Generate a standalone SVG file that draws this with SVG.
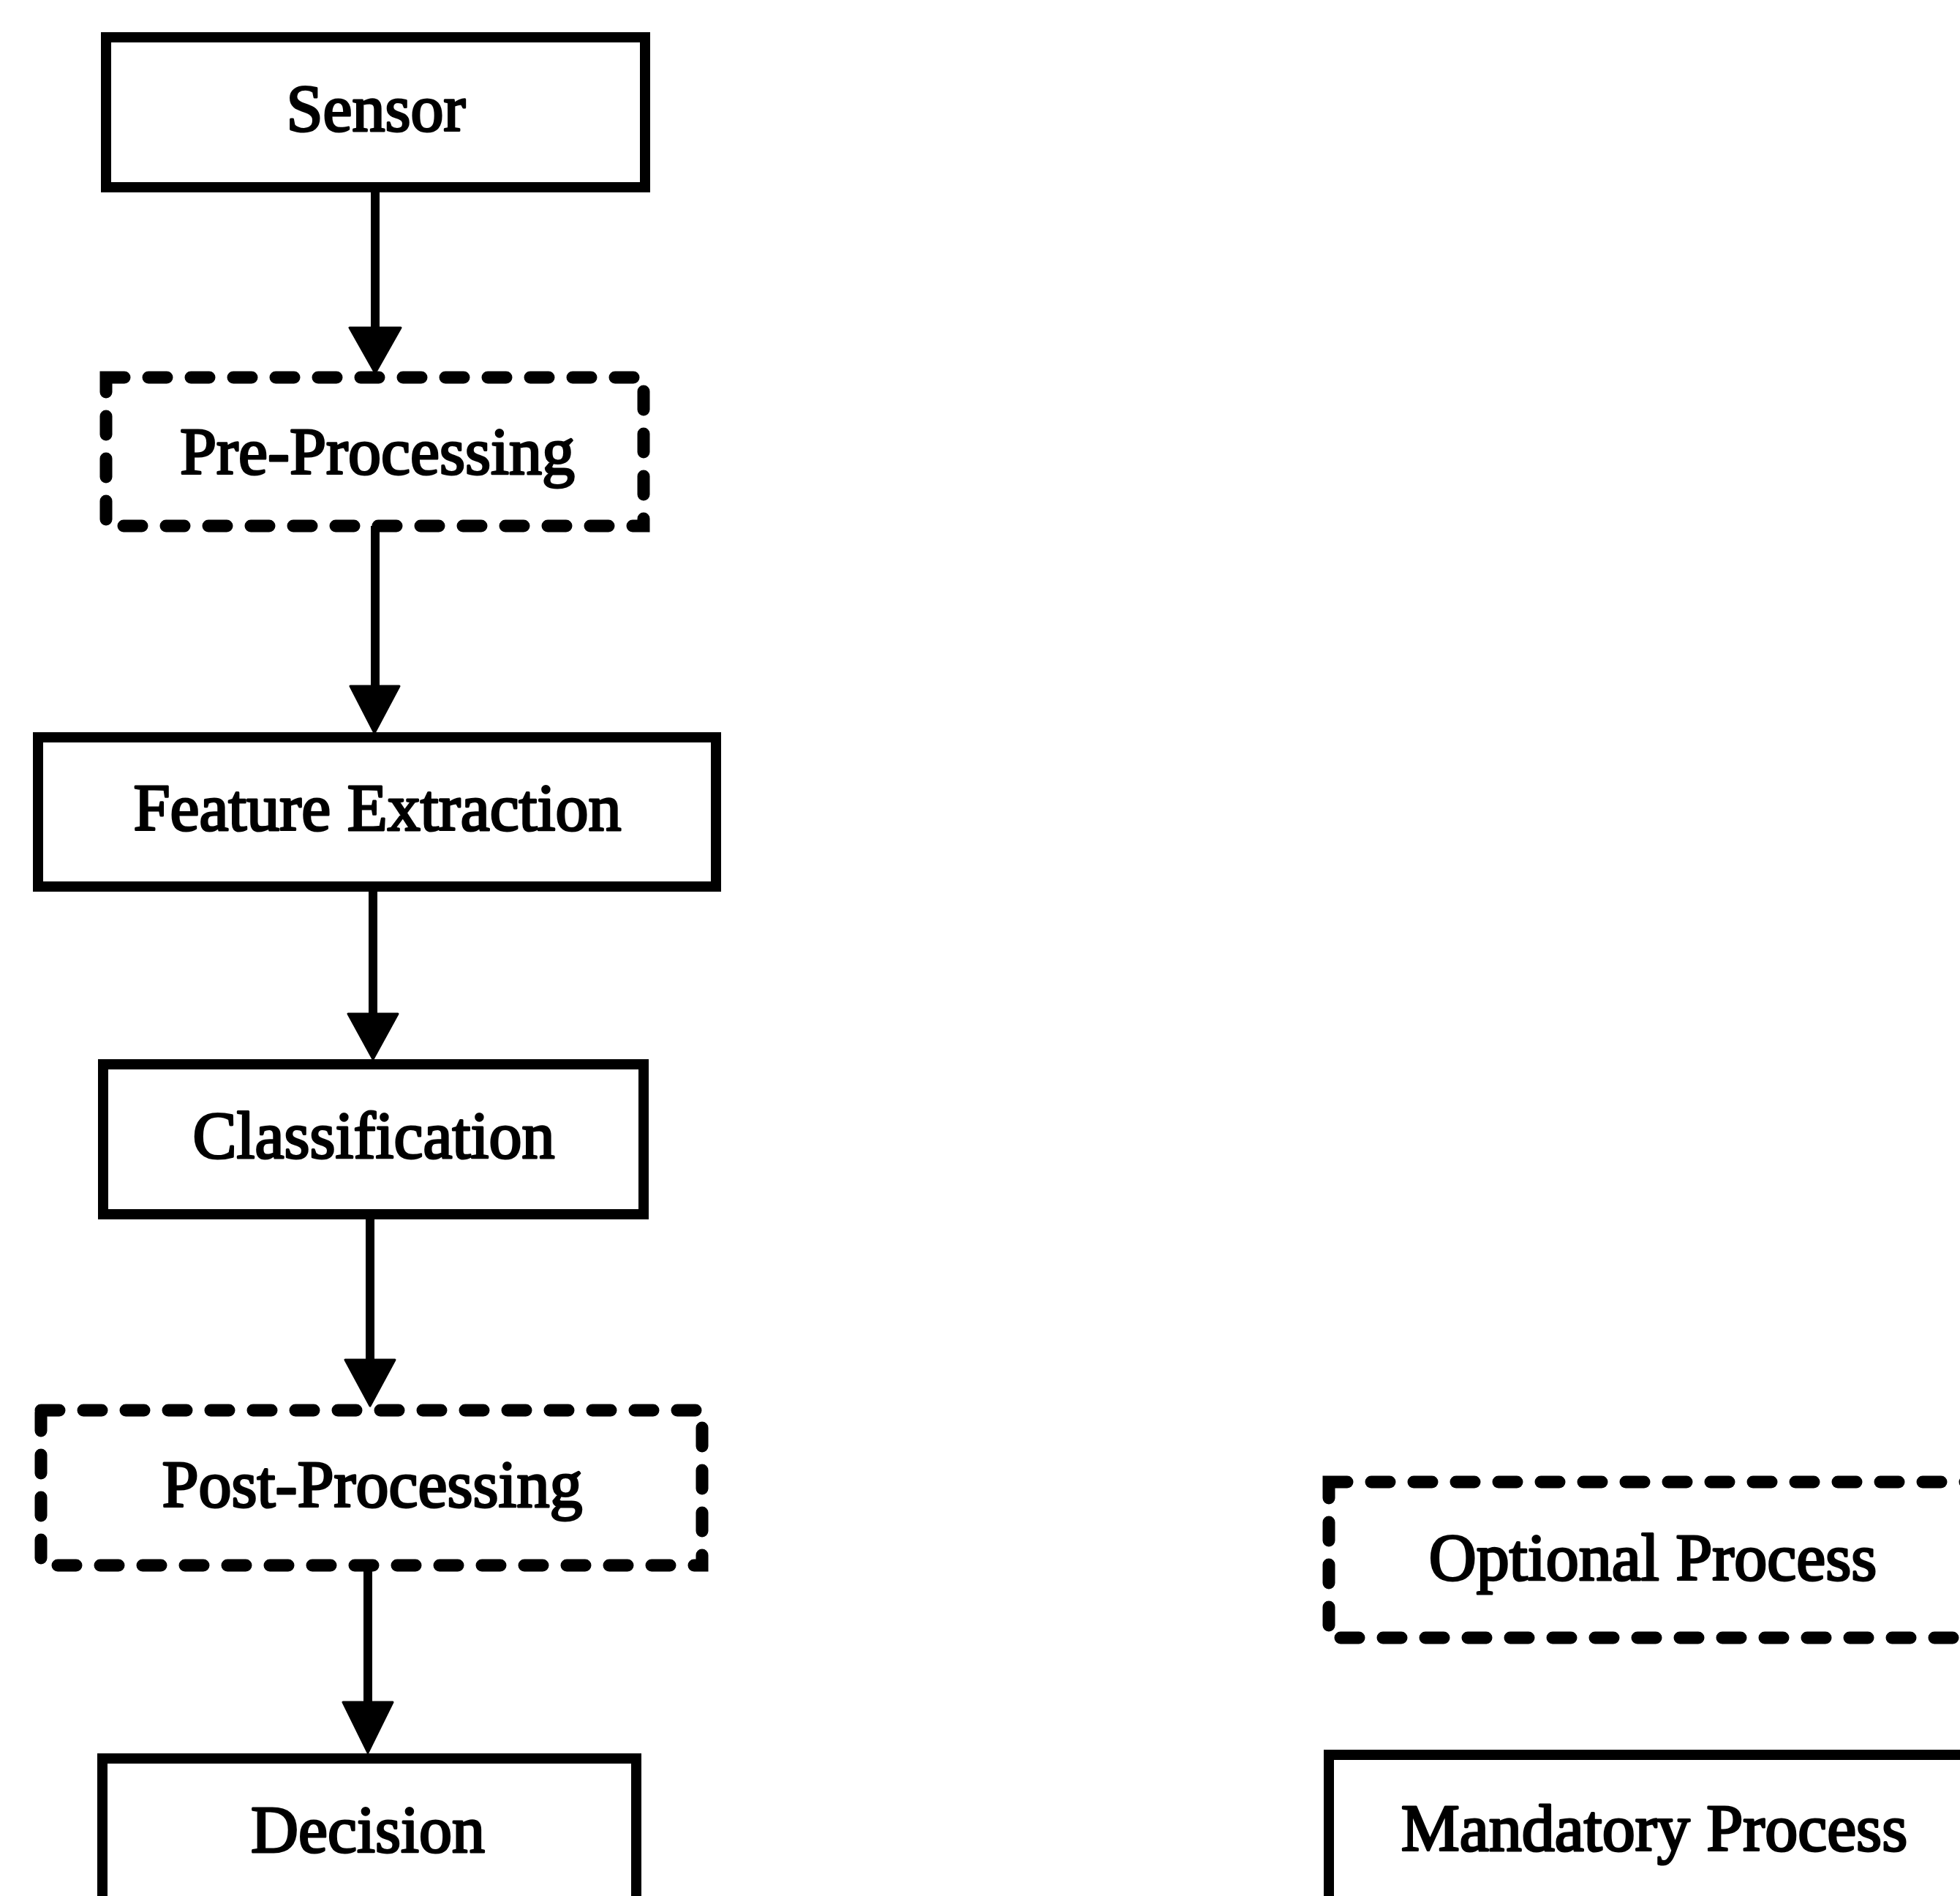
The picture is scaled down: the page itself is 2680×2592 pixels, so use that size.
<svg xmlns="http://www.w3.org/2000/svg" width="2680" height="2592" viewBox="0 0 2680 2592">
<style>
.box{fill:none;stroke:#000;stroke-width:14}
.opt{fill:none;stroke:#000;stroke-width:17;stroke-dasharray:25 33;stroke-linecap:round}
.lbl{font-family:"Liberation Serif","Times New Roman",serif;font-size:90px;text-anchor:middle;fill:#000;stroke:#000;stroke-width:3;stroke-linejoin:round}
.edge{stroke:#000;stroke-width:12;fill:none}
.head{fill:#000;stroke:#000;stroke-width:3;stroke-linejoin:round}
</style>
<rect x="0" y="0" width="2680" height="2592" fill="#fff"/>
<g id="connectors">
  <line class="edge" x1="513" y1="256" x2="513" y2="452"/>
  <polygon class="head" points="478,448 548,448 513,510"/>
  <line class="edge" x1="513" y1="719" x2="513" y2="940"/>
  <polygon class="head" points="479,938 546,938 512,1002"/>
  <line class="edge" x1="510" y1="1212" x2="510" y2="1388"/>
  <polygon class="head" points="476,1386 544,1386 510,1448"/>
  <line class="edge" x1="506" y1="1660" x2="506" y2="1862"/>
  <polygon class="head" points="472,1859 540,1859 506,1922"/>
  <line class="edge" x1="503" y1="2140" x2="503" y2="2330"/>
  <polygon class="head" points="469,2327 537,2327 503,2396"/>
</g>
<g id="sensor">
  <rect class="box" x="145" y="51" width="737" height="205"/>
  <text class="lbl" x="514" y="179">Sensor</text>
</g>
<g id="preprocessing">
  <rect class="opt" x="145" y="516" width="735" height="203"/>
  <text class="lbl" x="516" y="648">Pre-Processing</text>
</g>
<g id="feature-extraction">
  <rect class="box" x="52" y="1008" width="927" height="204"/>
  <text class="lbl" x="516" y="1135">Feature Extraction</text>
</g>
<g id="classification">
  <rect class="box" x="141" y="1455" width="739" height="205"/>
  <text class="lbl" x="511" y="1583">Classification</text>
</g>
<g id="postprocessing">
  <rect class="opt" x="56" y="1928" width="904" height="212"/>
  <text class="lbl" x="509" y="2060">Post-Processing</text>
</g>
<g id="decision">
  <rect class="box" x="140" y="2404" width="730" height="300"/>
  <text class="lbl" x="503" y="2532">Decision</text>
</g>
<g id="legend-optional">
  <rect class="opt" x="1817" y="2026" width="900" height="213"/>
  <text class="lbl" x="2260" y="2160">Optional Process</text>
</g>
<g id="legend-mandatory">
  <rect class="box" x="1817" y="2399" width="900" height="300"/>
  <text class="lbl" x="2262" y="2530">Mandatory Process</text>
</g>
</svg>
